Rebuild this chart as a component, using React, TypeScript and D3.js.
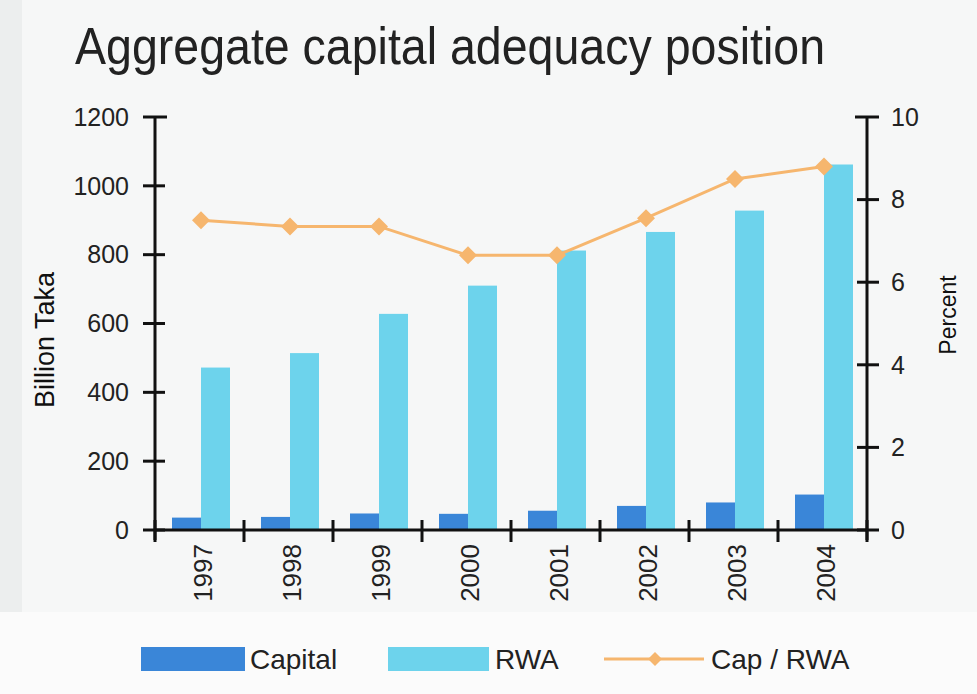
import React from "react";
import * as d3 from "d3";

const years = ["1997", "1998", "1999", "2000", "2001", "2002", "2003", "2004"];
const capital = [36, 38, 48, 47, 56, 70, 80, 103];
const rwa = [472, 514, 628, 710, 812, 866, 928, 1062];
const capRwa = [7.5, 7.35, 7.35, 6.65, 6.65, 7.55, 8.5, 8.8];
const leftTicks = [0, 200, 400, 600, 800, 1000, 1200];
const rightTicks = [0, 2, 4, 6, 8, 10];

const W = 977;
const H = 694;
const margin = { top: 117, right: 110, bottom: 164, left: 155 };
const font = "'Liberation Sans', Arial, sans-serif";
const blue = "#3a86d8";
const cyan = "#6dd3ec";
const orange = "#f6b66e";

const App = () => {
  const x0 = d3
    .scaleBand()
    .domain(years)
    .range([margin.left, W - margin.right])
    .padding(0);
  const x1 = d3
    .scaleBand()
    .domain(["capital", "rwa"])
    .range([17, 75])
    .padding(0);
  const y = d3
    .scaleLinear()
    .domain([0, 1200])
    .range([H - margin.bottom, margin.top]);
  const y2 = d3
    .scaleLinear()
    .domain([0, 10])
    .range([H - margin.bottom, margin.top]);

  const base = y(0);
  const lineX = (i) => x0(years[i]) + x1("rwa");
  const line = d3
    .line()
    .x((d, i) => lineX(i))
    .y((d) => y2(d));

  const diamond = (cx, cy, r) =>
    `M${cx},${cy - r}L${cx + r},${cy}L${cx},${cy + r}L${cx - r},${cy}Z`;

  const xRight = W - margin.right;
  const bounds = [...years.map((yr) => x0(yr)), xRight];

  return (
    <svg
      width={W}
      height={H}
      style={{ position: "absolute", left: 0, top: 0, fontFamily: font }}
    >
      <rect x={0} y={0} width={W} height={H} fill="#f6f7f7" />
      <rect x={0} y={0} width={22} height={H} fill="#eceeee" />
      <rect x={0} y={612} width={W} height={H - 612} fill="#fbfbfb" />

      <text
        x={75}
        y={64}
        fontSize={52}
        textLength={750}
        lengthAdjust="spacingAndGlyphs"
        fill="#222"
      >
        Aggregate capital adequacy position
      </text>

      {/* bars */}
      {years.map((yr, i) => (
        <g key={yr}>
          <rect
            x={x0(yr) + x1("capital")}
            y={y(capital[i])}
            width={x1.bandwidth()}
            height={base - y(capital[i])}
            fill={blue}
          />
          <rect
            x={x0(yr) + x1("rwa")}
            y={y(rwa[i])}
            width={x1.bandwidth()}
            height={base - y(rwa[i])}
            fill={cyan}
          />
        </g>
      ))}

      {/* ratio line */}
      <path d={line(capRwa)} fill="none" stroke={orange} strokeWidth={3} />
      {capRwa.map((v, i) => (
        <path key={i} d={diamond(lineX(i), y2(v), 9)} fill={orange} />
      ))}

      {/* left axis */}
      <line x1={margin.left} x2={margin.left} y1={y(1200)} y2={base + 10} stroke="#111" strokeWidth={3} />
      {leftTicks.map((t) => (
        <g key={t}>
          <line
            x1={margin.left - 12}
            x2={margin.left + (t === 1200 ? 12 : 10)}
            y1={y(t)}
            y2={y(t)}
            stroke="#111"
            strokeWidth={3}
          />
          <text
            x={margin.left - 26}
            y={y(t)}
            dy="0.35em"
            textAnchor="end"
            fontSize={25}
            fill="#222"
          >
            {t}
          </text>
        </g>
      ))}
      <text
        transform={`translate(54,${340}) rotate(-90)`}
        textAnchor="middle"
        fontSize={27}
        fill="#111"
      >
        Billion Taka
      </text>

      {/* right axis */}
      <line x1={xRight} x2={xRight} y1={y2(10)} y2={base + 10} stroke="#111" strokeWidth={3} />
      {rightTicks.map((t) => (
        <g key={t}>
          <line
            x1={xRight - (t === 10 ? 12 : 10)}
            x2={xRight + 12}
            y1={y2(t)}
            y2={y2(t)}
            stroke="#111"
            strokeWidth={3}
          />
          <text
            x={xRight + 24}
            y={y2(t)}
            dy="0.35em"
            textAnchor="start"
            fontSize={25}
            fill="#222"
          >
            {t}
          </text>
        </g>
      ))}
      <text
        transform={`translate(956,${315}) rotate(-90)`}
        textAnchor="middle"
        fontSize={23}
        fill="#111"
      >
        Percent
      </text>

      {/* x axis */}
      <line x1={margin.left} x2={xRight} y1={base} y2={base} stroke="#111" strokeWidth={3} />
      {bounds.map((b, i) => (
        <line key={i} x1={b} x2={b} y1={base - 10} y2={base + 12} stroke="#111" strokeWidth={3} />
      ))}
      {years.map((yr) => (
        <text
          key={yr}
          transform={`translate(${x0(yr) + x0.bandwidth() / 2 + 3},${base + 14}) rotate(-90)`}
          textAnchor="end"
          dy="0.35em"
          fontSize={26}
          fill="#222"
        >
          {yr}
        </text>
      ))}

      {/* legend */}
      <rect x={141} y={647} width={104} height={24} fill={blue} />
      <text x={250} y={659} dy="0.35em" fontSize={28} fill="#222">
        Capital
      </text>
      <rect x={388} y={647} width={101} height={24} fill={cyan} />
      <text x={495} y={659} dy="0.35em" fontSize={28} fill="#222">
        RWA
      </text>
      <line x1={604} x2={704} y1={659} y2={659} stroke={orange} strokeWidth={3} />
      <path d={diamond(655, 659, 7)} fill={orange} />
      <text x={711} y={659} dy="0.35em" fontSize={28} fill="#222">
        Cap / RWA
      </text>
    </svg>
  );
};

export default App;
